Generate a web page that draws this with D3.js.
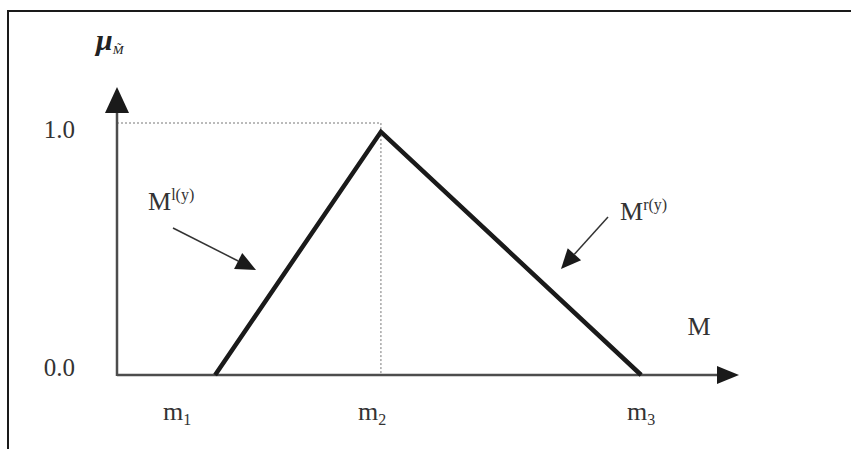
<!DOCTYPE html>
<html>
<head>
<meta charset="utf-8">
<script src="https://cdn.jsdelivr.net/npm/d3@7"></script>
<style>
  body { margin: 0; background: #fff; }
  svg { display: block; }
</style>
</head>
<body>
<div id="chart"></div>
<script>
// membership function values (x in arbitrary units along the M axis)
var triangleX = [15.8, 42.5, 84.4];
var triangleY = [0, 0.965, 0];

// x axis tick labels and where they sit
var xTickNames = ['m', 'm', 'm'];
var xTickSubs = ['1', '2', '3'];
var xTickVals = [9.7, 41.1, 84.4];

// y axis tick labels
var yTickVals = [0, 1];
var yTickLabels = ['0.0', '1.0'];

var fullWidth = 851;
var fullHeight = 449;
var mainFont = '"Liberation Serif", "Times New Roman", serif';
var axisColor = '#4d4d4d';
var lineColor = '#1a1a1a';
var textColor = '#333';

window.onload = function() {
    render();
};

function render() {
    var svg = d3.select('#chart').append('svg')
        .attr('width', fullWidth)
        .attr('height', fullHeight);

    // frame: only top and left edges are visible
    svg.append('path')
        .attr('d', d3.line()([[8, 449], [8, 11], [851, 11]]))
        .attr('fill', 'none')
        .attr('stroke', '#1a1a1a')
        .attr('stroke-width', 2);

    var originX = 117;
    var originY = 375;

    var x = d3.scaleLinear().domain([0, 100]).range([originX, 738]);
    var y = d3.scaleLinear().domain([0, 1]).range([originY, 123]);

    // dotted guides to the peak
    svg.append('path')
        .attr('d', d3.line()([[x(0), y(1)], [x(triangleX[1]), y(1)], [x(triangleX[1]), y(0)]]))
        .attr('fill', 'none')
        .attr('stroke', '#777')
        .attr('stroke-width', 1)
        .attr('stroke-dasharray', '2 2');

    // x axis
    svg.append('line')
        .attr('x1', originX).attr('y1', originY)
        .attr('x2', 720).attr('y2', originY)
        .attr('stroke', axisColor)
        .attr('stroke-width', 2.5);
    svg.append('path')
        .attr('d', d3.line()([[717, originY - 9], [739, originY], [717, originY + 9]]) + 'Z')
        .attr('fill', '#1a1a1a');

    // y axis
    svg.append('line')
        .attr('x1', originX).attr('y1', originY + 1)
        .attr('x2', originX).attr('y2', 108)
        .attr('stroke', axisColor)
        .attr('stroke-width', 2.5);
    svg.append('path')
        .attr('d', d3.line()([[105, 113], [originX, 87], [129, 113]]) + 'Z')
        .attr('fill', '#1a1a1a');

    // triangle
    var pts = triangleX.map(function(v, i) { return [x(v), y(triangleY[i])]; });
    svg.append('path')
        .attr('d', d3.line()(pts))
        .attr('fill', 'none')
        .attr('stroke', lineColor)
        .attr('stroke-width', 4.5)
        .attr('stroke-linejoin', 'miter');

    // y tick labels
    for (var i = 0; i < yTickVals.length; i++) {
        svg.append('text')
            .attr('x', 75)
            .attr('y', y(yTickVals[i]) + (yTickVals[i] === 0 ? 1 : 15))
            .style('text-anchor', 'end')
            .style('font-family', mainFont)
            .style('font-size', '25px')
            .style('fill', textColor)
            .text(yTickLabels[i]);
    }

    // x tick labels with subscripts
    for (var j = 0; j < xTickVals.length; j++) {
        var t = svg.append('text')
            .attr('x', x(xTickVals[j]))
            .attr('y', 420)
            .style('text-anchor', 'middle')
            .style('font-family', mainFont)
            .style('font-size', '26px')
            .style('fill', textColor);
        t.append('tspan').text(xTickNames[j]);
        t.append('tspan')
            .attr('dy', 5)
            .style('font-size', '16px')
            .text(xTickSubs[j]);
    }

    // axis title M
    svg.append('text')
        .attr('x', 699)
        .attr('y', 335)
        .style('text-anchor', 'middle')
        .style('font-family', mainFont)
        .style('font-size', '26px')
        .style('fill', textColor)
        .text('M');

    // mu with tilde-M subscript
    var mu = svg.append('text')
        .attr('x', 96)
        .attr('y', 50)
        .style('font-family', mainFont)
        .style('font-style', 'italic')
        .style('font-weight', 'bold')
        .style('font-size', '30px')
        .style('fill', '#222');
    mu.append('tspan').text('\u03bc');
    mu.append('tspan')
        .attr('dy', 4)
        .style('font-weight', 'normal')
        .style('font-size', '13px')
        .text('M\u0303');

    // annotations
    drawLabel(svg, 148, 210, 'l(y)');
    drawLabel(svg, 620, 220, 'r(y)');
    drawArrow(svg, [173, 228], [256, 270]);
    drawArrow(svg, [608, 217], [561, 269]);
}

function drawLabel(svg, lx, ly, sup) {
    var t = svg.append('text')
        .attr('x', lx)
        .attr('y', ly)
        .style('font-family', mainFont)
        .style('font-size', '26px')
        .style('fill', textColor);
    t.append('tspan').text('M');
    t.append('tspan')
        .attr('dy', -10)
        .style('font-size', '16px')
        .text(sup);
}

function drawArrow(svg, from, to) {
    var dx = to[0] - from[0];
    var dy = to[1] - from[1];
    var len = Math.sqrt(dx * dx + dy * dy);
    var ux = dx / len, uy = dy / len;
    var headLen = 20, headW = 9;
    var bx = to[0] - ux * headLen, by = to[1] - uy * headLen;
    svg.append('line')
        .attr('x1', from[0]).attr('y1', from[1])
        .attr('x2', bx).attr('y2', by)
        .attr('stroke', '#333')
        .attr('stroke-width', 1.5);
    svg.append('path')
        .attr('d', d3.line()([
            [bx - uy * headW, by + ux * headW],
            to,
            [bx + uy * headW, by - ux * headW]
        ]) + 'Z')
        .attr('fill', '#1a1a1a');
}
</script>
</body>
</html>
